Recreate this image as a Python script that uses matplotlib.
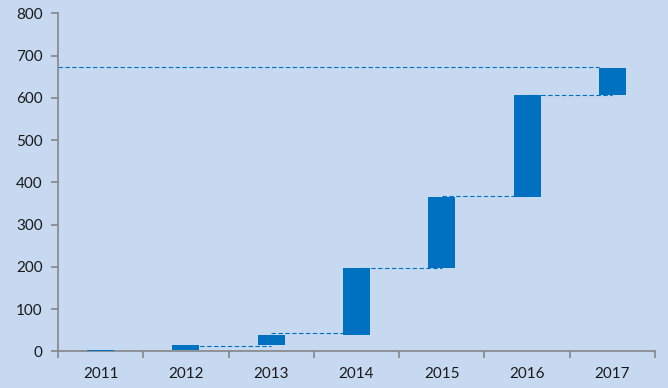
import matplotlib
matplotlib.use("Agg")
import matplotlib.pyplot as plt
import numpy as np

years = ["2011", "2012", "2013", "2014", "2015", "2016", "2017"]
tops = [3, 15, 39, 197, 365, 606, 670]
connectors = [0, 12, 43, 196, 367, 606]
total_line = 672
yticks = [0, 100, 200, 300, 400, 500, 600, 700, 800]

bg = "#C6D9F1"
bar_c = "#0070C0"
grey = "#868686"

W, H = 668, 388
fig = plt.figure(figsize=(W / 100, H / 100), dpi=100, facecolor=bg)
ax = fig.add_axes([58 / W, (H - 351.3) / H, (655 - 58) / W, (351.3 - 13.3) / H])
ax.set_facecolor(bg)

x = np.arange(len(years))
bottoms = [0] + tops[:-1]
heights = [t - b for t, b in zip(tops, bottoms)]
bw = 0.315
ax.bar(x, heights, bottom=bottoms, width=bw, color=bar_c, zorder=3)

dash = (0, (4, 2.2))
for i, lv in enumerate(connectors):
    ax.plot([x[i], x[i + 1]], [lv, lv], color=bar_c, lw=0.8, linestyle=dash, zorder=1.5)
ax.plot([-0.5, x[-1] - bw / 2], [total_line, total_line], color=bar_c, lw=0.8,
        linestyle=dash, zorder=2)

ax.set_xlim(-0.5, len(years) - 0.5)
ax.set_ylim(0, 800)
ax.set_yticks(yticks)
ax.set_xticks(x)
ax.set_xticklabels(years)
ax.set_xticks(np.arange(-0.5, len(years)), minor=True)
ax.tick_params(axis="x", which="major", length=0, pad=11, labelsize=11, labelcolor="#1a1a1a")
ax.tick_params(axis="x", which="minor", length=5, color=grey, width=1.2)
ax.tick_params(axis="y", length=5, color=grey, width=1.2, pad=6, labelsize=11, labelcolor="#1a1a1a")

for s in ["top", "right"]:
    ax.spines[s].set_visible(False)
for s in ["left", "bottom"]:
    ax.spines[s].set_color(grey)
    ax.spines[s].set_linewidth(1.2)
    ax.spines[s].set_zorder(2.5)

for lab in ax.get_xticklabels() + ax.get_yticklabels():
    lab.set_family(["Lato", "DejaVu Sans"])

fig.savefig("out.png", dpi=100, facecolor=bg)
